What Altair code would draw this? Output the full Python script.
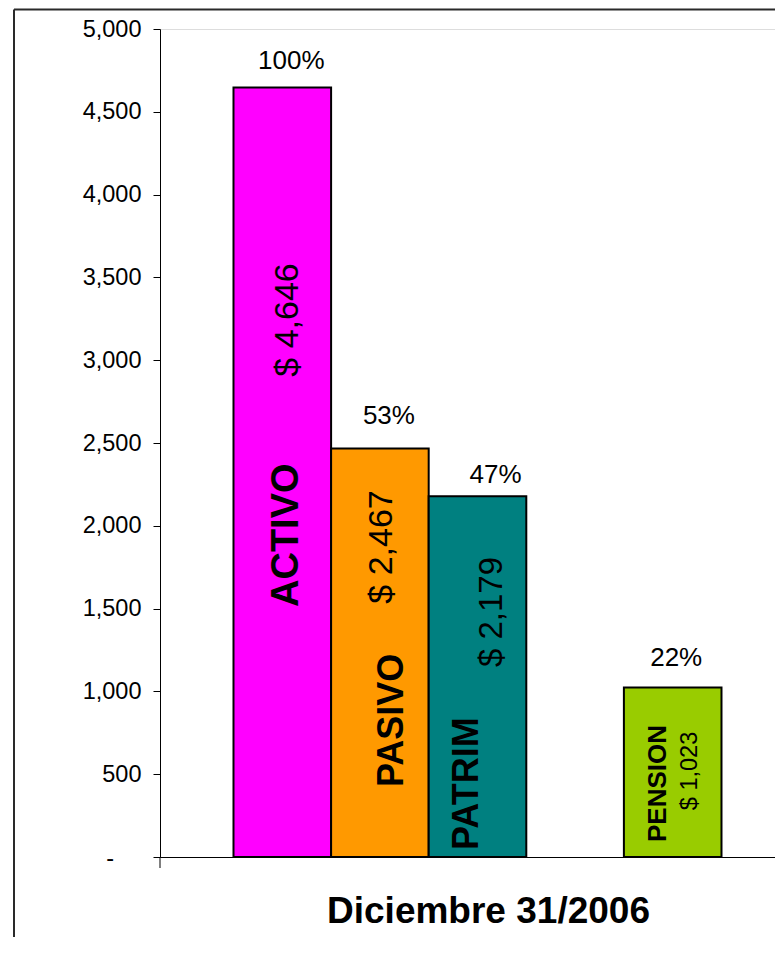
import altair as alt
import pandas as pd

# ---------------- data ----------------
categories = ["ACTIVO", "PASIVO", "PATRIM", "PENSION"]
values = [4646, 2467, 2179, 1023]
percents = ["100%", "53%", "47%", "22%"]
value_labels = ["$ 4,646", "$ 2,467", "$ 2,179", "$ 1,023"]
slot_order = ["ACTIVO", "PASIVO", "PATRIM", " ", "PENSION"]
y_ticks = [0, 500, 1000, 1500, 2000, 2500, 3000, 3500, 4000, 4500, 5000]
zero_label = "-"
x_title = "Diciembre 31/2006"

# ---------------- style ----------------
colors = ["#FF00FF", "#FF9900", "#008080", "#99CC00"]
FONT = "Liberation Sans"
W, H = 615, 828
# per-bar label placement (pixels): along = upward shift, across = rightward shift
cat_style = {
    "ACTIVO": dict(size=38, along=250, across=5),
    "PASIVO": dict(size=36, along=70, across=12),
    "PATRIM": dict(size=36, along=7, across=-10.5),
    "PENSION": dict(size=26, along=15, across=-14.5),
}
val_style = {
    "ACTIVO": dict(size=34, along=537, across=5.4),
    "PASIVO": dict(size=34, along=310, across=2),
    "PATRIM": dict(size=33, along=245, across=14.5),
    "PENSION": dict(size=23.5, along=86, across=17),
}
pct_style = {
    "ACTIVO": dict(dx=9, dy=-26.5),
    "PASIVO": dict(dx=9, dy=-32.5),
    "PATRIM": dict(dx=18, dy=-21.5),
    "PENSION": dict(dx=3.5, dy=-29.5),
}

df = pd.DataFrame({"cat": categories, "value": values, "pct": percents,
                   "vlabel": value_labels})
df["zero"] = 0

x_enc = alt.X(
    "cat:N",
    scale=alt.Scale(domain=slot_order, paddingInner=0, paddingOuter=0.6506,
                    align=0.5787, round=False),
    axis=alt.Axis(labels=False, ticks=False, domain=True, domainColor="black",
                  domainWidth=1, grid=False, title=x_title, titleFont=FONT,
                  titleFontSize=37, titleFontWeight="bold", titleColor="black",
                  titlePadding=36, titleX=328, titleAlign="center"),
)
y_scale = alt.Scale(domain=[0, 5000], nice=False, zero=True)
y_axis = alt.Axis(values=y_ticks, grid=False, title=None,
                  labelExpr="datum.value == 0 ? '' : format(datum.value, ',')",
                  labelFont=FONT, labelFontSize=23.5, labelColor="black",
                  labelPadding=12, tickSize=7, tickColor="black", tickWidth=1,
                  domainColor="black", domainWidth=1)

bars = alt.Chart(df).mark_bar(stroke="black", strokeWidth=2).encode(
    x=x_enc,
    y=alt.Y("value:Q", scale=y_scale, axis=y_axis),
    color=alt.Color("cat:N", scale=alt.Scale(domain=categories, range=colors), legend=None),
)

layers = [bars]
for c in categories:
    sub = alt.Chart(df).transform_filter(alt.datum.cat == c)
    cs = cat_style[c]
    layers.append(sub.mark_text(angle=270, align="left", baseline="middle",
                                font=FONT, fontWeight="bold", fontSize=cs["size"],
                                color="black", dx=cs["along"], dy=cs["across"]).encode(
        x=x_enc, y=alt.Y("zero:Q", scale=y_scale, axis=y_axis), text="cat:N"))
    vs = val_style[c]
    layers.append(sub.mark_text(angle=270, align="center", baseline="middle",
                                font=FONT, fontSize=vs["size"], color="black",
                                dx=vs["along"], dy=vs["across"]).encode(
        x=x_enc, y=alt.Y("zero:Q", scale=y_scale, axis=y_axis), text="vlabel:N"))
    ps = pct_style[c]
    layers.append(sub.mark_text(align="center", baseline="middle", font=FONT,
                                fontSize=26, color="black", dx=ps["dx"], dy=ps["dy"]).encode(
        x=x_enc, y=alt.Y("value:Q", scale=y_scale, axis=y_axis), text="pct:N"))

one = alt.Chart(df).transform_filter(alt.datum.cat == "ACTIVO")
# accounting-style zero label of the value axis
layers.append(one.mark_text(align="right", baseline="middle", font=FONT,
                            fontSize=23.5, color="black", dy=2).encode(
    x=alt.value(-46), y=alt.Y("zero:Q", scale=y_scale, axis=y_axis),
    text=alt.value(zero_label)))
# chart-area border (left and top edges visible)
layers.append(one.mark_rule(color="#2a2a2a", strokeWidth=2).encode(
    x=alt.value(-146), y=alt.value(-19.5), y2=alt.value(H + 120)))
layers.append(one.mark_rule(color="#2a2a2a", strokeWidth=2).encode(
    x=alt.value(-146), x2=alt.value(W + 10), y=alt.value(-19.5)))
# category-axis tick at the left end
layers.append(one.mark_rule(color="black", strokeWidth=1).encode(
    x=alt.value(0), y=alt.value(H), y2=alt.value(H + 11)))

chart = alt.layer(*layers).properties(
    width=W, height=H,
    padding={"left": 152, "top": 21, "right": 0, "bottom": 80},
    autosize=alt.AutoSizeParams(type="none"),
).configure_view(stroke=None).configure(font=FONT)

chart.save("out.html", embed_options={"renderer": "svg", "actions": False})
